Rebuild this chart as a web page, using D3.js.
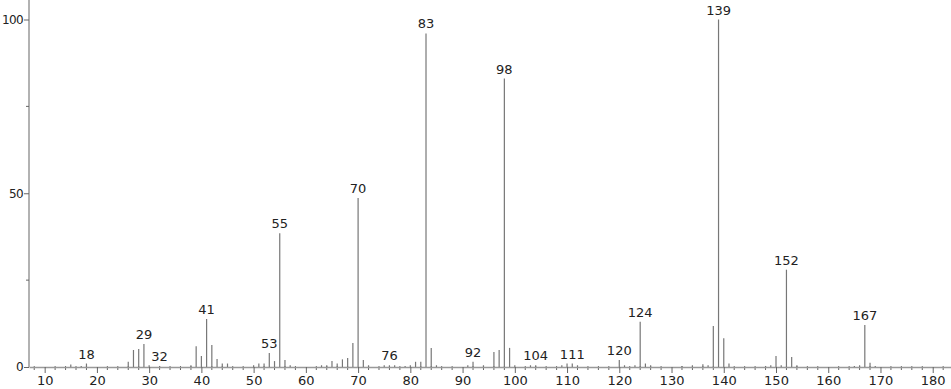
<!DOCTYPE html>
<html>
<head>
<meta charset="utf-8">
<script src="https://cdn.jsdelivr.net/npm/d3@7"></script>
<style>
  body { margin: 0; background: #fff; }
  svg text { font-family: "DejaVu Sans", sans-serif; }
</style>
</head>
<body>
<div id="chart"></div>
<script>
// m/z values and relative intensities
var mz = [15, 17, 18, 26, 27, 28, 29, 30, 32, 38, 39, 40, 41, 42, 43, 44, 45,
  50, 51, 52, 53, 54, 55, 56, 57, 63, 64, 65, 66, 67, 68, 69, 70, 71, 72,
  75, 76, 77, 79, 80, 81, 82, 83, 84, 85, 91, 92, 94, 96, 97, 98, 99, 100,
  103, 104, 109, 110, 111, 112, 120, 121, 123, 124, 125, 126, 132, 134, 136,
  137, 138, 139, 140, 141, 148, 149, 150, 151, 152, 153, 154, 165, 166, 167, 168, 169];
var intensity = [0.7, 0.3, 1, 1.5, 4.9, 5.2, 6.6, 0.5, 0.3, 0.5, 6, 3.2, 13.8, 6.3, 2.3, 1, 1,
  0.5, 1, 1, 4, 1.7, 38.5, 2, 0.5, 0.5, 0.5, 1.7, 1, 2.2, 2.6, 6.9, 48.6, 2, 0.5,
  0.5, 0.5, 0.5, 0.3, 0.5, 1.5, 1.5, 96, 5.5, 0.5, 0.5, 1.5, 0.5, 4.3, 4.9, 83, 5.5, 0.5,
  0.5, 0.5, 0.5, 1, 1, 0.5, 2, 0.5, 0.5, 13, 1, 0.5, 0.3, 0.5, 0.8,
  0.5, 11.8, 100, 8.3, 1, 0.3, 0.5, 3.2, 0.5, 28, 2.9, 0.5, 0.3, 0.5, 12.1, 1.2, 0.3];
var labelled = [18, 29, 32, 41, 53, 55, 70, 76, 83, 92, 98, 104, 111, 120, 124, 139, 152, 167];
var xMajor = [10, 20, 30, 40, 50, 60, 70, 80, 90, 100, 110, 120, 130, 140, 150, 160, 170, 180];
var yMajor = [0, 50, 100];
var yMinor = [25, 75];

var width = 951, height = 389;
var x = d3.scaleLinear().domain([7, 183.5]).range([29, 951]);
var y = d3.scaleLinear().domain([0, 100]).range([367, 19.5]);

var svg = d3.select('#chart').append('svg').attr('width', width).attr('height', height);

var peaks = mz.map(function (m, i) { return { mz: m, v: intensity[i] }; });

// minor x ticks every 2
var xMinor = d3.range(8, 184, 2).filter(function (d) { return d % 10 !== 0; });
svg.append('g').selectAll('line').data(xMinor).enter().append('line')
  .attr('x1', function (d) { return x(d); }).attr('x2', function (d) { return x(d); })
  .attr('y1', 366).attr('y2', 370)
  .attr('stroke', '#666').attr('stroke-width', 1);

// x axis
var xAxis = svg.append('g').attr('transform', 'translate(0,367)')
  .call(d3.axisBottom(x).tickValues(xMajor).tickSize(6).tickSizeOuter(0).tickPadding(3));
xAxis.select('.domain').attr('stroke', '#999').attr('stroke-width', 1.5);
xAxis.selectAll('.tick line').attr('stroke', '#666');
xAxis.selectAll('text').attr('fill', '#222').attr('font-size', '13px')
  .style('font-family', '"DejaVu Sans", sans-serif');

// y axis
var yAxis = svg.append('g').attr('transform', 'translate(29,0)')
  .call(d3.axisLeft(y).tickValues(yMajor).tickSize(5).tickSizeOuter(0).tickPadding(1));
yAxis.select('.domain').attr('d', 'M0,' + y(0) + 'V0').attr('stroke', '#999').attr('stroke-width', 1.5);
yAxis.selectAll('.tick line').attr('stroke', '#666');
yAxis.selectAll('text').attr('fill', '#222').attr('font-size', '12px')
  .attr('letter-spacing', '-0.6px')
  .style('font-family', '"DejaVu Sans", sans-serif');
svg.append('g').selectAll('line').data(yMinor).enter().append('line')
  .attr('x1', 26).attr('x2', 29)
  .attr('y1', function (d) { return y(d); }).attr('y2', function (d) { return y(d); })
  .attr('stroke', '#666');

// peaks
svg.append('g').selectAll('line').data(peaks).enter().append('line')
  .attr('x1', function (d) { return x(d.mz); }).attr('x2', function (d) { return x(d.mz); })
  .attr('y1', y(0)).attr('y2', function (d) { return y(d.v); })
  .attr('stroke', '#777').attr('stroke-width', 1.2);

// labels
svg.append('g').selectAll('text')
  .data(peaks.filter(function (d) { return labelled.indexOf(d.mz) >= 0; }))
  .enter().append('text')
  .attr('x', function (d) { return x(d.mz); })
  .attr('y', function (d) { return y(d.v) - 5; })
  .attr('text-anchor', 'middle')
  .attr('font-size', '13px').attr('fill', '#222')
  .text(function (d) { return d.mz; });
</script>
</body>
</html>
